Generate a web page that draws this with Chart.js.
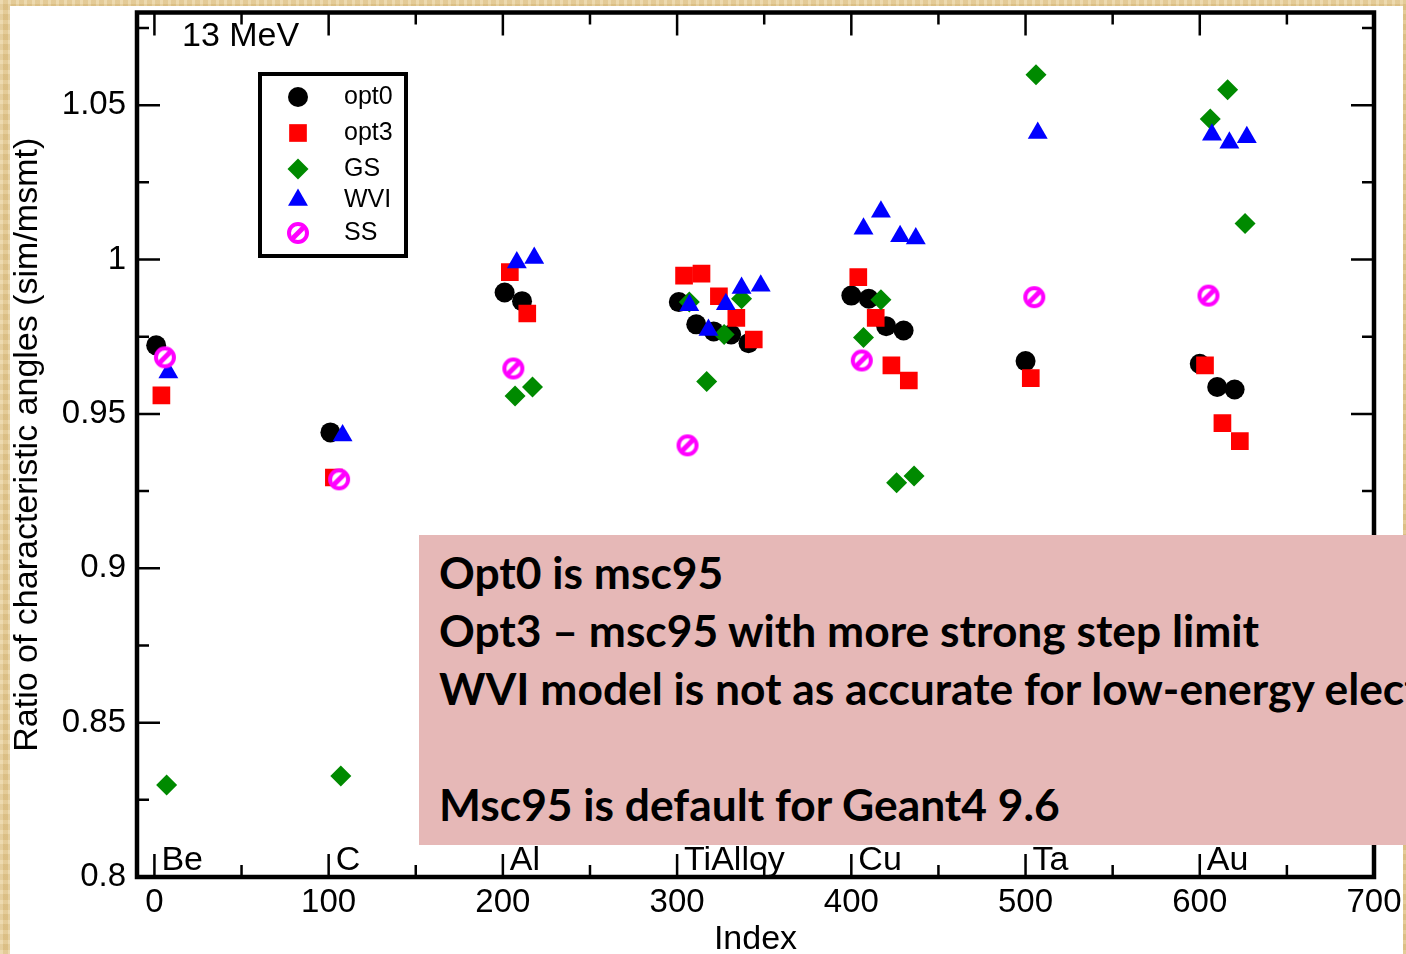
<!DOCTYPE html>
<html>
<head>
<meta charset="utf-8">
<script src="https://cdn.jsdelivr.net/npm/chart.js@4"></script>
<style>
html,body{margin:0;padding:0}
body{width:1406px;height:954px;overflow:hidden;position:relative;
  background:
   repeating-linear-gradient(90deg, rgba(255,255,255,0.14) 0 3px, rgba(170,125,55,0.10) 3px 8px),
   repeating-linear-gradient(0deg, rgba(255,255,255,0.10) 0 4px, rgba(160,120,50,0.10) 4px 10px),
   #e8cf98;}
#paper{position:absolute;left:10px;top:6px;width:1393px;height:948px;background:#fff}
#c{position:absolute;left:0;top:0}
#note{position:absolute;left:419px;top:535px;width:987px;height:310px;background:#e6b8b7;
  box-sizing:border-box;padding:8px 0 0 20px;overflow:hidden;
  font-family:Lato,"Open Sans",sans-serif;font-weight:700;font-size:44px;line-height:58px;color:#000}
#note div{white-space:nowrap;transform-origin:0 50%;height:58px}
</style>
</head>
<body>
<div id="paper"></div>
<canvas id="c" width="1406" height="954"></canvas>
<div id="note"></div>
<script>
// materials and where their index block starts
const categories = ['Be', 'C', 'Al', 'TiAlloy', 'Cu', 'Ta', 'Au'];
const categoryStart = [0, 100, 200, 300, 400, 500, 600];
const xTicks = [0, 100, 200, 300, 400, 500, 600, 700];
const yTicks = [0.8, 0.85, 0.9, 0.95, 1, 1.05];
const yTickLabels = ['0.8', '0.85', '0.9', '0.95', '1', '1.05'];

const opt0X = [1, 101, 201, 211, 301, 311, 321, 331, 341, 400, 410, 420, 430, 500, 600, 610, 620];
const opt0Y = [0.9722, 0.944, 0.9893, 0.9865, 0.9862, 0.979, 0.9767, 0.9757, 0.9729, 0.9883, 0.9873, 0.9784, 0.977, 0.9671, 0.9662, 0.9587, 0.9579];

const opt3X = [4, 103, 204, 214, 304, 314, 324, 334, 344, 404, 414, 423, 433, 503, 603, 613, 623];
const opt3Y = [0.956, 0.9294, 0.9959, 0.9825, 0.9948, 0.9954, 0.9881, 0.9811, 0.9741, 0.9943, 0.9811, 0.9657, 0.9608, 0.9616, 0.9657, 0.947, 0.9412];

const gsX = [7, 107, 207, 217, 307, 317, 327, 337, 407, 417, 426, 436, 506, 606, 616, 626];
const gsY = [0.8298, 0.8327, 0.9558, 0.9587, 0.9862, 0.9605, 0.9757, 0.9873, 0.9747, 0.987, 0.9277, 0.9299, 1.0598, 1.0455, 1.055, 1.0117];

const wviX = [8, 108, 208, 218, 307, 318, 328, 337, 348, 407, 417, 428, 437, 507, 607, 617, 627];
const wviY = [0.9634, 0.943, 0.999, 1.0005, 0.9852, 0.9772, 0.9855, 0.9908, 0.9915, 1.01, 1.0155, 1.0075, 1.0068, 1.041, 1.0404, 1.0378, 1.0396];

const ssX = [6, 106, 206, 306, 406, 505, 605];
const ssY = [0.9683, 0.9288, 0.9647, 0.9398, 0.9673, 0.9878, 0.9883];

const noteLines = [
  'Opt0 is msc95',
  'Opt3 \u2013 msc95 with more strong step limit',
  'WVI model is not as accurate for low-energy electrons',
  '',
  'Msc95 is default for Geant4 9.6'
];

function pts(xs, ys){ return xs.map((x, i) => ({x: x, y: ys[i]})); }

// hatched magenta circle used for SS
function ssMarker(){
  const c = document.createElement('canvas');
  c.width = 26; c.height = 26;
  const g = c.getContext('2d');
  g.fillStyle = '#fff'; g.strokeStyle = '#ff00ff'; g.lineWidth = 4;
  g.beginPath(); g.arc(13, 13, 9, 0, 2 * Math.PI); g.fill(); g.stroke();
  g.lineWidth = 5; g.lineCap = 'round';
  g.beginPath(); g.moveTo(9, 17); g.lineTo(17, 9); g.stroke();
  return c;
}
const ssImg = ssMarker();

const FONT = '"Liberation Sans", Arial, sans-serif';

const frame = {
  id: 'frame',
  afterDatasetsDraw(chart){
    const {ctx, chartArea: a, scales: {x, y}} = chart;
    ctx.save();
    ctx.strokeStyle = '#000';
    ctx.lineWidth = 2.5;
    ctx.beginPath();
    for (let v = 0; v <= 700; v += 50) {
      const px = x.getPixelForValue(v), len = v % 100 === 0 ? 23 : 12;
      ctx.moveTo(px, a.bottom); ctx.lineTo(px, a.bottom - len);
      ctx.moveTo(px, a.top); ctx.lineTo(px, a.top + len);
    }
    for (let k = 0; k <= 11; k++) {
      const v = 0.8 + k * 0.025, py = y.getPixelForValue(v), len = k % 2 === 0 ? 23 : 12;
      ctx.moveTo(a.left, py); ctx.lineTo(a.left + len, py);
      ctx.moveTo(a.right, py); ctx.lineTo(a.right - len, py);
    }
    ctx.stroke();
    ctx.lineWidth = 4.5;
    ctx.strokeRect(a.left, a.top, a.right - a.left, a.bottom - a.top);

    ctx.fillStyle = '#000';
    ctx.font = '34px ' + FONT;
    ctx.textBaseline = 'alphabetic';
    ctx.textAlign = 'left';
    categories.forEach((c, i) => ctx.fillText(c, x.getPixelForValue(categoryStart[i]) + 7, 870));
    ctx.fillText('13 MeV', 182, 46);

    // legend
    ctx.lineWidth = 4;
    ctx.strokeRect(260, 74, 146, 182);
    ctx.font = '25px ' + FONT;
    ctx.textBaseline = 'middle';
    const rowY = [97, 133, 169, 200, 233];
    chart.data.datasets.forEach((ds, i) => {
      ctx.fillStyle = ds.backgroundColor;
      Chart.helpers.drawPoint(ctx, {pointStyle: ds.pointStyle, radius: ds.pointRadius, rotation: 0, borderWidth: 0}, 298, rowY[i]);
      ctx.fillStyle = '#000';
      ctx.fillText(ds.label, 344, rowY[i]);
    });
    ctx.restore();
  }
};

new Chart(document.getElementById('c'), {
  type: 'scatter',
  data: {
    datasets: [
      {label: 'opt0', data: pts(opt0X, opt0Y), pointStyle: 'circle', pointRadius: 10, backgroundColor: '#000', borderWidth: 0, order: 5},
      {label: 'opt3', data: pts(opt3X, opt3Y), pointStyle: 'rect', pointRadius: 12.5, backgroundColor: '#ff0000', borderWidth: 0, order: 4},
      {label: 'GS', data: pts(gsX, gsY), pointStyle: 'rectRot', pointRadius: 10.5, backgroundColor: '#008a00', borderWidth: 0, order: 3},
      {label: 'WVI', data: pts(wviX, wviY), pointStyle: 'triangle', pointRadius: 11.5, backgroundColor: '#0000ff', borderWidth: 0, order: 2},
      {label: 'SS', data: pts(ssX, ssY), pointStyle: ssImg, pointRadius: 11, backgroundColor: '#ff00ff', borderWidth: 0, order: 1}
    ]
  },
  options: {
    responsive: false,
    animation: false,
    events: [],
    layout: {padding: {left: 0, top: 12, right: 32, bottom: 0}},
    plugins: {legend: {display: false}, tooltip: {enabled: false}},
    scales: {
      x: {
        type: 'linear', min: -10, max: 700,
        afterBuildTicks: s => { s.ticks = xTicks.map(v => ({value: v})); },
        afterFit: s => { s.height = 77; s.paddingLeft = 0; s.paddingRight = 0; },
        grid: {display: false, drawTicks: false},
        border: {display: false},
        ticks: {color: '#000', font: {family: FONT, size: 33}, padding: 6, maxRotation: 0, autoSkip: false},
        title: {display: true, text: 'Index', color: '#000', font: {family: FONT, size: 34, lineHeight: 0.85}, padding: 0}
      },
      y: {
        min: 0.8, max: 1.08,
        afterBuildTicks: s => { s.ticks = yTicks.map(v => ({value: v})); },
        afterFit: s => { s.width = 137; s.paddingTop = 0; s.paddingBottom = 0; },
        grid: {display: false, drawTicks: false},
        border: {display: false},
        ticks: {color: '#000', font: {family: FONT, size: 33}, padding: 11, autoSkip: false,
          callback: (v, i) => yTickLabels[i]},
        title: {display: true, text: 'Ratio of characteristic angles (sim/msmt)', color: '#000',
          font: {family: FONT, size: 34, lineHeight: 1.2}, padding: {top: 7, bottom: 0}}
      }
    }
  },
  plugins: [frame]
});

// text note laid over the chart
const note = document.getElementById('note');
const m = document.createElement('canvas').getContext('2d');
m.font = '700 44px Lato';
const k = 821 / m.measureText(noteLines[1]).width;
noteLines.forEach(t => {
  const d = document.createElement('div');
  d.textContent = t;
  d.style.transform = 'scaleX(' + k + ')';
  note.appendChild(d);
});
</script>
</body>
</html>
